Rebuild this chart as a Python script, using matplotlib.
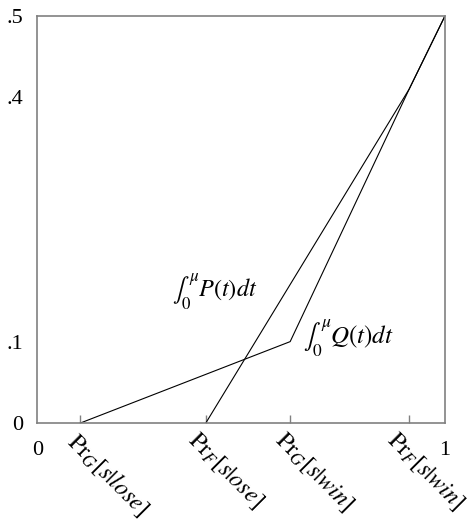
import matplotlib
matplotlib.use("Agg")
import matplotlib.pyplot as plt
import matplotlib.transforms as mtransforms

plt.rcParams['font.family'] = ['Liberation Serif', 'DejaVu Serif']
plt.rcParams['mathtext.fontset'] = 'stix'

# probabilities on the x axis
end_pos = [0.0, 1.0]
end_labels = ['0', '1']
prob_pos = [0.105, 0.413, 0.62, 0.912]
prob_labels = [r'$\mathrm{Pr}_G[s\mathrm{|}lose]$', r'$\mathrm{Pr}_F[s\mathrm{|}ose]$',
               r'$\mathrm{Pr}_G[s\mathrm{|}win]$', r'$\mathrm{Pr}_F[s\mathrm{|}win]$']
y_pos = [0.0, 0.1, 0.4, 0.5]
y_labels = ['0', '.1', '.4', '.5']

# cumulative curves
p_x = [0.413, 0.912, 1.0]
p_y = [0.0, 0.41, 0.5]
q_x = [0.105, 0.62, 0.912, 1.0]
q_y = [0.0, 0.1, 0.41, 0.5]

fig = plt.figure(figsize=(4.73, 5.23), dpi=100)
ax = fig.add_axes([0.079, 0.191, 0.862, 0.779])

ax.plot(p_x, p_y, color='black', lw=0.8)
ax.plot(q_x, q_y, color='black', lw=0.8)

ax.text(0.33, 0.161, r'$\int_0^\mu P(t)dt$', fontsize=17.5, va='center', ha='left')
ax.text(0.652, 0.104, r'$\int_0^\mu Q(t)dt$', fontsize=18, va='center', ha='left')

ax.set_xlim(0, 1)
ax.set_ylim(0, 0.5)
for sp in ax.spines.values():
    sp.set_color('#808080')
    sp.set_linewidth(1.2)

ax.set_yticks(y_pos)
ax.set_yticklabels(y_labels, fontsize=16)
ax.tick_params(axis='y', length=0, pad=10)

# 0 and 1 on the major ticks, the probabilities on minor ticks
ax.set_xticks(end_pos)
ax.set_xticklabels(end_labels, fontsize=16)
ax.tick_params(axis='x', which='major', length=0, pad=13)
ax.set_xticks(prob_pos, minor=True)
ax.set_xticklabels(prob_labels, minor=True, fontsize=17.5)
ax.tick_params(axis='x', which='minor', direction='in', length=6,
               color='#808080', width=1, pad=4)

# nudge the slanted labels a little to the left
shifts = [0, -6, -3, -10]
for lab, dx in zip(ax.get_xticklabels(minor=True), shifts):
    lab.set_rotation(-45)
    lab.set_ha('left')
    lab.set_rotation_mode('anchor')
    off = mtransforms.ScaledTranslation(dx / 100, 0, fig.dpi_scale_trans)
    lab.set_transform(lab.get_transform() + off)

fig.savefig('out.png', dpi=100)
